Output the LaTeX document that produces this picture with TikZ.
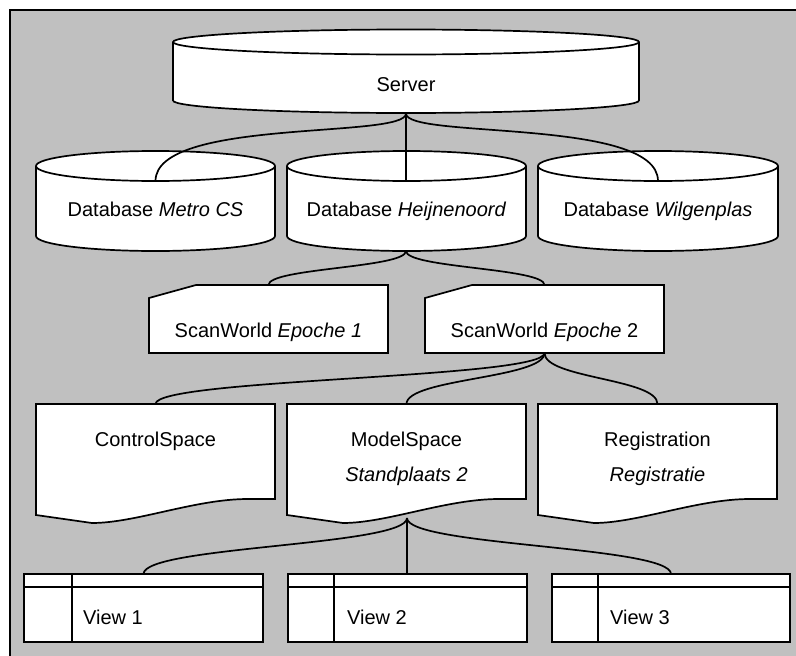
\documentclass[tikz,border=0pt]{standalone}
\usepackage{fontspec}
\setmainfont{Liberation Sans}
\usetikzlibrary{calc}
\definecolor{framegray}{RGB}{192,192,192}
\tikzset{
  x=1pt, y=-1pt,
  shapeline/.style={draw=black, fill=white, line width=1.7pt, line join=miter},
  conn/.style={draw=black, line width=1.7pt},
  lbl/.style={inner sep=0pt, anchor=base, font=\fontsize{20}{24}\selectfont},
  lbll/.style={inner sep=0pt, anchor=base west, font=\fontsize{20}{24}\selectfont},
}
% cylinder: L, R, top ellipse centre y, bottom ellipse centre y, ry
\newcommand{\mycyl}[5]{%
  \pgfmathsetmacro{\rxx}{(#2-#1)/2}%
  \path[shapeline] (#1,#3) -- (#1,#4) arc[start angle=180,end angle=0,x radius=\rxx,y radius=#5]
     -- (#2,#3) arc[start angle=0,end angle=-180,x radius=\rxx,y radius=#5] -- cycle;
  \draw[line width=1.7pt] (#1,#3) arc[start angle=180,end angle=0,x radius=\rxx,y radius=#5];
}
% card: L, R, top, bottom
\newcommand{\mycard}[4]{%
  \path[shapeline] (#1,#3+13) -- (#1+47,#3) -- (#2,#3) -- (#2,#4) -- (#1,#4) -- cycle;
}
% document: L, R, top
\newcommand{\mydoc}[3]{%
  \path[shapeline] (#1,#3) -- (#2,#3) -- (#2,#3+95) -- (#2-27,#3+95)
    .. controls (#2-80,#3+95) and (#1+100,#3+119) .. (#1+56,#3+119) -- (#1,#3+111) -- cycle;
}
% view box: L, R, top, bottom, divider x
\newcommand{\myview}[5]{%
  \path[shapeline] (#1,#3) rectangle (#2,#4);
  \draw[line width=1.7pt] (#1,#3+13) -- (#2,#3+13);
  \draw[line width=1.7pt] (#5,#3) -- (#5,#4);
}
\newcommand{\sconn}[2]{%
  \draw[conn] (#1) .. controls ($(#1)!0.5!(#1|-#2)$) and ($(#2|-#1)!0.5!(#2)$) .. (#2);
}
\newcommand{\tconn}[2]{%
  \draw[conn] (#1) .. controls ($(#1)!0.38!(#1|-#2)$) and ($(#2|-#1)!0.06!(#2)$) .. (#2);
}
\begin{document}
\begin{tikzpicture}
\useasboundingbox (0,0) rectangle (796,656);
\fill[white] (0,0) rectangle (796,656);
\path[draw=black, fill=framegray, line width=1.7pt] (10,10) rectangle (806,666);

% shapes
\mycyl{173}{639}{42}{100.5}{12.5}
\mycyl{36}{275}{166}{236}{15}
\mycyl{287}{526}{166}{236}{15}
\mycyl{538}{778}{166}{236}{15}
\mycard{149}{388}{285}{353}
\mycard{425}{664}{285}{353}
\mydoc{36}{275}{404}
\mydoc{287}{526}{404}
\mydoc{538}{777}{404}
\myview{24}{263}{574}{642}{72}
\myview{288}{527}{574}{642}{334}
\myview{552}{790}{574}{642}{598}

% connection points
\coordinate (srvb) at (406,113.5);
\coordinate (db1t) at (155.5,181);
\coordinate (db2t) at (406,181);
\coordinate (db3t) at (658,181);
\coordinate (db2b) at (406,251);
\coordinate (sw1t) at (268.5,285);
\coordinate (sw2t) at (544.5,285);
\coordinate (sw2b) at (544.5,353);
\coordinate (cst) at (155.5,404);
\coordinate (mst) at (406.5,404);
\coordinate (regt) at (657.5,404);
\coordinate (msb) at (407,518);
\coordinate (v1t) at (143.5,574);
\coordinate (v2t) at (407,574);
\coordinate (v3t) at (671,574);

% connectors
\tconn{srvb}{db1t}
\draw[conn] (srvb) -- (db2t);
\tconn{srvb}{db3t}
\sconn{db2b}{sw1t}
\sconn{db2b}{sw2t}
\sconn{sw2b}{cst}
\sconn{sw2b}{mst}
\sconn{sw2b}{regt}
\sconn{msb}{v1t}
\draw[conn] (msb) -- (v2t);
\sconn{msb}{v3t}

% labels
\node[lbl] (server) at (406,91) {Server};
\node[lbl] (db1) at (155.5,216) {Database \textit{Metro CS}};
\node[lbl] (db2) at (406.5,216) {Database \textit{Heijnenoord}};
\node[lbl] (db3) at (658,216) {Database \textit{Wilgenplas}};
\node[lbl] (sw1) at (268.5,337) {ScanWorld \textit{Epoche 1}};
\node[lbl] (sw2) at (544.5,337) {ScanWorld \textit{Epoche} 2};
\node[lbl] (cs) at (155.5,446) {ControlSpace};
\node[lbl] (ms) at (406.5,446) {ModelSpace};
\node[lbl] (ms2) at (406.5,481) {\textit{Standplaats 2}};
\node[lbl] (reg) at (657.5,446) {Registration};
\node[lbl] (reg2) at (657.5,481) {\textit{Registratie}};
\node[lbll] (v1) at (83,624) {View 1};
\node[lbll] (v2) at (347,624) {View 2};
\node[lbll] (v3) at (610,624) {View 3};
\end{tikzpicture}
\end{document}
